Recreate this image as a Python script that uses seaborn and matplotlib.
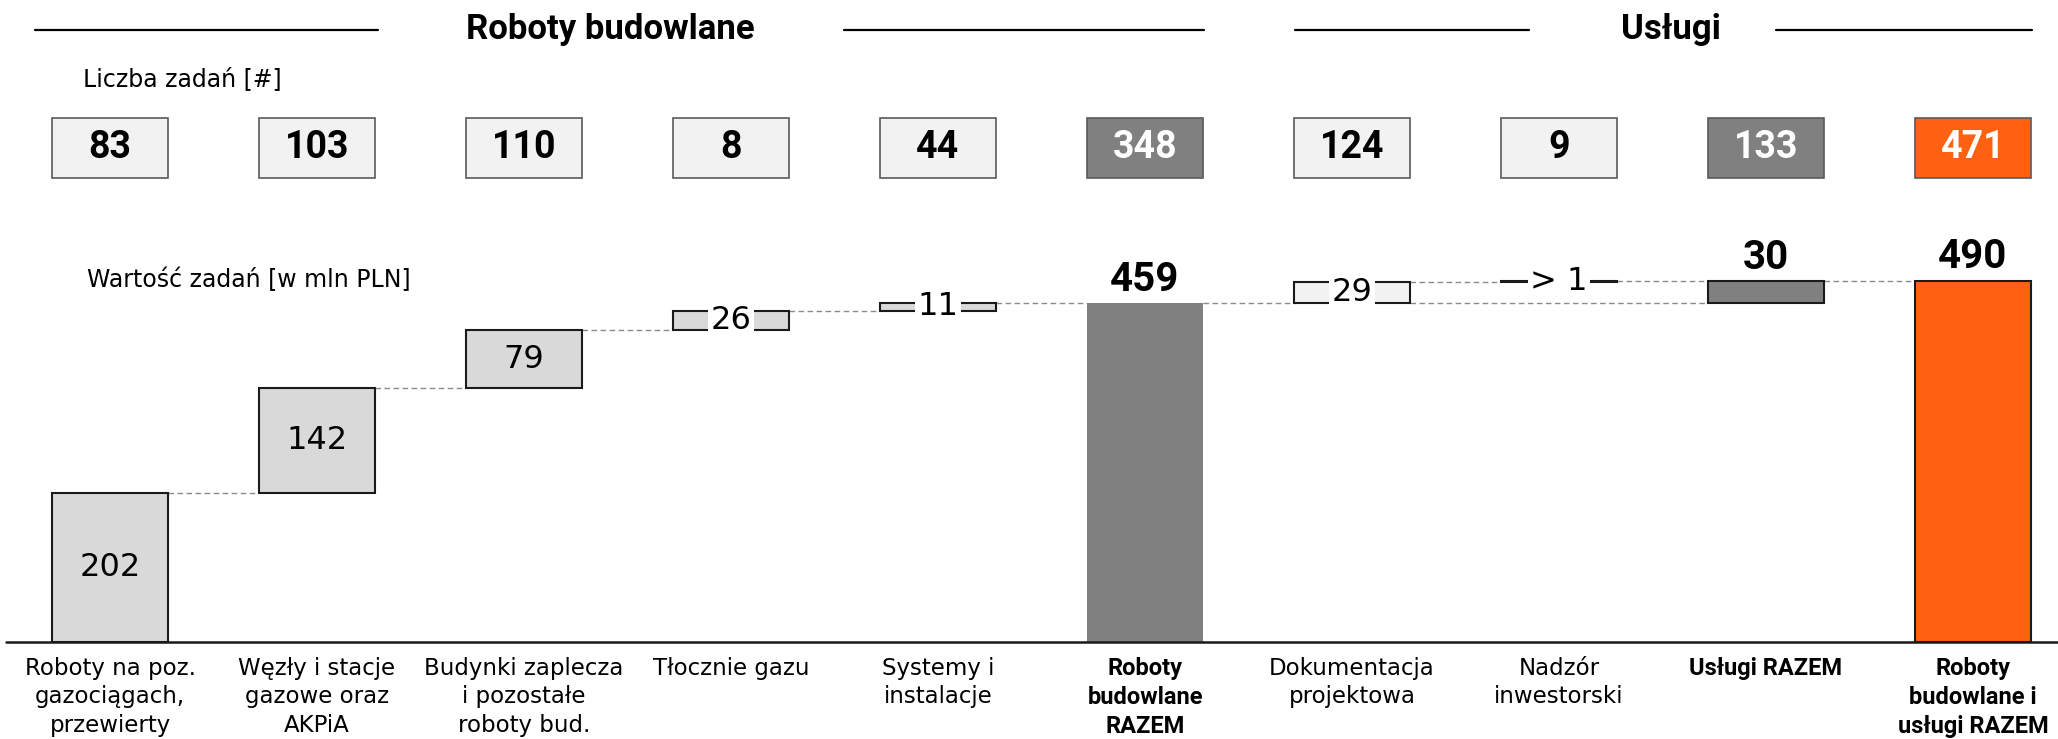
import matplotlib
matplotlib.use("Agg")
import matplotlib.pyplot as plt
import seaborn as sns

sns.set_theme(style="white")
plt.rcParams["font.family"] = ["DejaVu Sans"]
plt.rcParams["text.color"] = "black"

# --- data ---
categories = ["Roboty na poz.\ngazociągach,\nprzewierty",
              "Węzły i stacje\ngazowe oraz\nAKPiA",
              "Budynki zaplecza\ni pozostałe\nroboty bud.",
              "Tłocznie gazu",
              "Systemy i\ninstalacje",
              "Roboty\nbudowlane\nRAZEM",
              "Dokumentacja\nprojektowa",
              "Nadzór\ninwestorski",
              "Usługi RAZEM",
              "Roboty\nbudowlane i\nusługi RAZEM"]
task_counts = [83, 103, 110, 8, 44, 348, 124, 9, 133, 471]
build_values = [202, 142, 79, 26, 11]
build_total = 459
service_values = [29, 1]
service_total = 30
grand_total = 490
small_labels = {7: "> 1"}
group_titles = ["Roboty budowlane", "Usługi"]

# colours
C_BUILD = "#D9D9D9"
C_SERV = "#F2F2F2"
C_TOTAL = "#808080"
C_GRAND = "#FF6113"
BOLD = ["Roboto", "DejaVu Sans"]

# --- build waterfall geometry from the values ---
bottoms, heights, colors, kinds = [], [], [], []
run = 0
for v in build_values:
    bottoms.append(run); heights.append(v); colors.append(C_BUILD); kinds.append("inc")
    run += v
bottoms.append(0); heights.append(build_total); colors.append(C_TOTAL); kinds.append("total")
run = build_total
for v in service_values:
    bottoms.append(run); heights.append(v); colors.append(C_SERV); kinds.append("inc")
    run += v
bottoms.append(build_total); heights.append(service_total); colors.append(C_TOTAL); kinds.append("stotal")
bottoms.append(0); heights.append(grand_total); colors.append(C_GRAND); kinds.append("grand")
tops = [b + h for b, h in zip(bottoms, heights)]
x = list(range(len(categories)))

W_PX, H_PX = 2058, 739
fig = plt.figure(figsize=(W_PX / 100, H_PX / 100), dpi=100)
ax = fig.add_axes([0, 0, 1, 1])
ax.axis("off")

k = 0.7376          # px per mln PLN
base_px = 642       # baseline from top
ax.set_ylim(-(H_PX - base_px) / k, base_px / k)
ax.set_xlim(-110 / 207, 9 + 85 / 207)
ytop = base_px / k


def ypx(p):
    return ytop - p / k


def xpx(p):
    return (p - 110) / 207


width = 116 / 207
edges = ["none" if kd == "total" else "#1a1a1a" for kd in kinds]
ax.bar(x, heights, bottom=bottoms, width=width, color=colors,
       edgecolor=edges, linewidth=1.5, zorder=3)

# baseline
ax.plot([xpx(6), 9.6], [0, 0], color="#1a1a1a", lw=1.8, zorder=4)

# dashed connectors
dash = dict(color="#8a8a8a", lw=1.0, ls=(0, (4, 2.5)), zorder=2)
hw = width / 2
for i in range(4):
    ax.plot([i + hw, i + 1 - hw], [tops[i], tops[i]], **dash)
ax.plot([4 + hw, 5 - hw], [tops[4], tops[4]], **dash)
ax.plot([5 + hw, 6 - hw], [build_total, build_total], **dash)
ax.plot([6 + hw, 8 - hw], [build_total, build_total], **dash)
ax.plot([6 + hw, 7 - hw], [tops[6], tops[6]], **dash)
ax.plot([7 + hw, 8 - hw], [tops[7], tops[7]], **dash)
ax.plot([8 + hw, 9 - hw], [tops[8], tops[8]], **dash)

# value labels
for i in x:
    if kinds[i] == "inc":
        lab = small_labels.get(i, str(heights[i]))
        mid = bottoms[i] + heights[i] / 2
        if heights[i] >= 40:
            ax.text(i, mid, lab, ha="center", va="center", fontsize=23,
                    color="black", zorder=5)
        else:
            ax.text(i, mid, lab, ha="center", va="center", fontsize=23,
                    color="black", zorder=5,
                    bbox=dict(facecolor="white", edgecolor="none", pad=1.5))
    else:
        ax.annotate(str(heights[i]), (i, tops[i]), xytext=(0, 9),
                    textcoords="offset points", ha="center", va="baseline",
                    fontsize=29, fontweight="bold", family=BOLD, zorder=5)

# count boxes
cnt_colors = [C_SERV] * 5 + [C_TOTAL] + [C_SERV] * 2 + [C_TOTAL, C_GRAND]
cb, ct = ypx(178), ypx(118)
ax.bar(x, [ct - cb] * len(x), bottom=cb, width=width, color=cnt_colors,
       edgecolor="#5a5a5a", linewidth=1.2, zorder=3)
for i, n in enumerate(task_counts):
    tc = "white" if cnt_colors[i] in (C_TOTAL, C_GRAND) else "black"
    ax.text(i, (cb + ct) / 2, str(n), ha="center", va="center", fontsize=27,
            fontweight="bold", family=BOLD, color=tc, zorder=5)

# row titles
ax.text(xpx(83), ypx(79), "Liczba zadań [#]", ha="left", va="center", fontsize=17)
ax.text(xpx(87), ypx(280), "Wartość zadań [w mln PLN]", ha="left", va="center", fontsize=17)

# group headers
hy = ypx(30)
for a, b in [(35, 378), (844, 1204), (1295, 1529), (1776, 2032)]:
    ax.plot([xpx(a), xpx(b)], [hy, hy], color="black", lw=1.6)
ax.text(xpx(610), hy, group_titles[0], ha="center", va="center", fontsize=25,
        fontweight="bold", family=BOLD)
ax.text(xpx(1671), hy, group_titles[1], ha="center", va="center", fontsize=25,
        fontweight="bold", family=BOLD)

# category labels
for i, lab in enumerate(categories):
    if kinds[i] == "inc":
        ax.text(i, ypx(657), lab, ha="center", va="top", fontsize=16.5,
                linespacing=1.3)
    else:
        ax.text(i, ypx(657), lab, ha="center", va="top", fontsize=17,
                fontweight="bold", family=BOLD, linespacing=1.32)

fig.savefig("out.png", dpi=100)
